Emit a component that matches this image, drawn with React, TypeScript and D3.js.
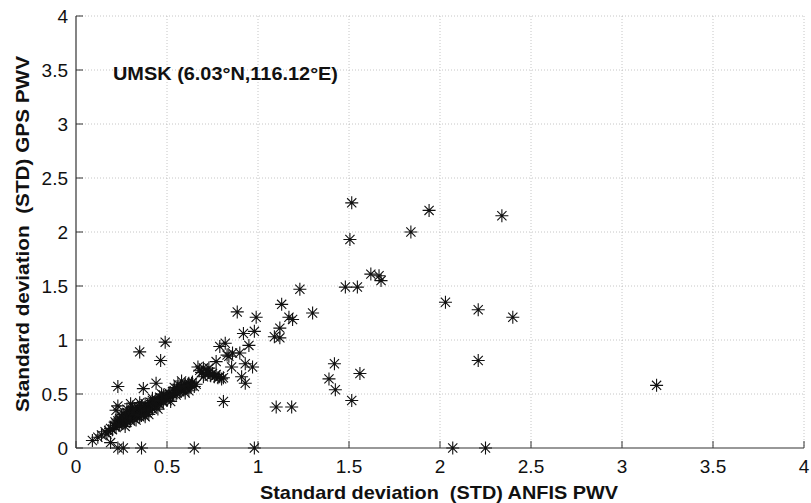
import React from 'react';
import * as d3 from 'd3';

// STD of ANFIS PWV (x) vs STD of GPS PWV (y)
const anfisStd: number[] = [
  0.09, 0.12, 0.14, 0.16, 0.17, 0.18, 0.19, 0.20, 0.21, 0.22, 0.22, 0.23, 0.24, 0.24, 0.25, 0.25,
  0.26, 0.26, 0.27, 0.27, 0.28, 0.28, 0.29, 0.29, 0.30, 0.30, 0.31, 0.31, 0.32, 0.32, 0.33, 0.33,
  0.34, 0.34, 0.35, 0.35, 0.36, 0.36, 0.37, 0.37, 0.38, 0.38, 0.39, 0.39, 0.40, 0.40, 0.41, 0.41,
  0.42, 0.42, 0.43, 0.44, 0.44, 0.45, 0.46, 0.46, 0.47, 0.48, 0.48, 0.49, 0.50, 0.50, 0.51, 0.52,
  0.53, 0.54, 0.55, 0.56, 0.57, 0.58, 0.59, 0.60, 0.61, 0.62, 0.63, 0.64, 0.65, 0.66, 0.62, 0.60,
  0.58, 0.56, 0.35, 0.31, 0.28, 0.30, 0.27, 0.33, 0.38, 0.45, 0.52, 0.40,
  0.215, 0.235, 0.255, 0.275, 0.295, 0.315, 0.335, 0.355, 0.375, 0.395, 0.415, 0.435, 0.455,
  0.475, 0.495, 0.515, 0.535, 0.555, 0.575, 0.595, 0.615, 0.635, 0.32, 0.36, 0.42, 0.47, 0.54,
  0.23, 0.23, 0.37, 0.44, 0.35, 0.465, 0.49, 0.22, 0.19,
  0.23, 0.26, 0.36, 0.65, 0.98, 2.07, 2.25,
  0.67, 0.68, 0.69, 0.70, 0.71, 0.72, 0.73, 0.74, 0.75, 0.76, 0.77, 0.78, 0.79, 0.80, 0.70, 0.73,
  0.81, 0.77, 0.81,
  0.79, 0.82, 0.83, 0.84, 0.86, 0.90, 0.95, 0.855, 0.93, 0.97, 0.91, 0.93, 0.886, 0.99, 0.92, 0.98,
  1.09, 1.12, 1.12, 1.13, 1.17, 1.19, 1.23, 1.30, 1.10, 1.185, 1.42, 1.39, 1.425, 1.56, 1.515,
  1.515, 1.505, 1.94, 2.34, 1.84, 1.62, 1.665, 1.676, 1.48, 1.546, 2.03, 2.21, 2.40, 2.21, 3.19,
];

const gpsStd: number[] = [
  0.07, 0.10, 0.12, 0.15, 0.13, 0.16, 0.18, 0.17, 0.21, 0.19, 0.23, 0.25, 0.22, 0.27, 0.24, 0.29,
  0.26, 0.31, 0.23, 0.28, 0.26, 0.33, 0.30, 0.27, 0.32, 0.25, 0.29, 0.35, 0.31, 0.27, 0.34, 0.30,
  0.37, 0.32, 0.29, 0.35, 0.33, 0.39, 0.36, 0.31, 0.34, 0.41, 0.37, 0.33, 0.39, 0.35, 0.42, 0.38,
  0.36, 0.44, 0.40, 0.38, 0.45, 0.42, 0.47, 0.40, 0.44, 0.49, 0.43, 0.46, 0.48, 0.44, 0.51, 0.47,
  0.50, 0.53, 0.49, 0.55, 0.52, 0.57, 0.54, 0.59, 0.56, 0.60, 0.58, 0.61, 0.57, 0.59, 0.53, 0.51,
  0.62, 0.59, 0.42, 0.38, 0.36, 0.41, 0.20, 0.26, 0.29, 0.36, 0.43, 0.31,
  0.24, 0.21, 0.28, 0.25, 0.28, 0.33, 0.31, 0.37, 0.35, 0.36, 0.40, 0.41, 0.44,
  0.46, 0.47, 0.49, 0.52, 0.51, 0.55, 0.57, 0.58, 0.60, 0.36, 0.30, 0.46, 0.50, 0.56,
  0.57, 0.39, 0.55, 0.60, 0.89, 0.81, 0.98, 0.35, 0.05,
  0.00, 0.00, 0.00, 0.00, 0.00, 0.00, 0.00,
  0.75, 0.72, 0.70, 0.74, 0.68, 0.72, 0.70, 0.67, 0.69, 0.66, 0.68, 0.65, 0.66, 0.64, 0.66, 0.74,
  0.65, 0.80, 0.43,
  0.94, 0.97, 0.86, 0.85, 0.88, 0.88, 0.95, 0.75, 0.78, 0.75, 0.66, 0.60, 1.26, 1.21, 1.06, 1.08,
  1.03, 1.02, 1.11, 1.33, 1.21, 1.19, 1.47, 1.25, 0.38, 0.38, 0.78, 0.64, 0.54, 0.69, 0.44,
  2.27, 1.93, 2.20, 2.15, 2.00, 1.61, 1.595, 1.55, 1.49, 1.49, 1.35, 1.28, 1.21, 0.81, 0.58,
];

const ticks: number[] = [0, 0.5, 1, 1.5, 2, 2.5, 3, 3.5, 4];
const tickLabels: string[] = ['0', '0.5', '1', '1.5', '2', '2.5', '3', '3.5', '4'];

const width = 811;
const height = 503;
const margin = { top: 16, right: 7, bottom: 55, left: 76 };

const FONT = '"Liberation Sans", Arial, Helvetica, sans-serif';
const MARKER = 'M-6.5,0H6.5M0,-6.5V6.5M-4.6,-4.6L4.6,4.6M-4.6,4.6L4.6,-4.6';

const App: React.FC = () => {
  const innerW = width - margin.left - margin.right;
  const innerH = height - margin.top - margin.bottom;

  const x = d3.scaleLinear().domain([0, 4]).range([0, innerW]);
  const y = d3.scaleLinear().domain([0, 4]).range([innerH, 0]);

  return (
    <div style={{ position: 'fixed', left: 0, top: 0, background: '#fff' }}>
      <svg width={width} height={height} style={{ display: 'block' }}>
        <rect width={width} height={height} fill="#fff" />
        <g transform={`translate(${margin.left},${margin.top})`}>
          {/* grid */}
          {ticks.slice(1).map(t => (
            <line key={'gx' + t} x1={x(t)} x2={x(t)} y1={0} y2={innerH}
              stroke="#b8b8b8" strokeWidth={0.8} strokeDasharray="1,2" />
          ))}
          {ticks.slice(1).map(t => (
            <line key={'gy' + t} x1={0} x2={innerW} y1={y(t)} y2={y(t)}
              stroke="#b8b8b8" strokeWidth={0.8} strokeDasharray="1,2" />
          ))}

          {/* axes */}
          <line x1={0} x2={innerW} y1={innerH} y2={innerH} stroke="#333" strokeWidth={1.2} />
          <line x1={0} x2={0} y1={0} y2={innerH} stroke="#333" strokeWidth={1.2} />

          {ticks.map((t, i) => (
            <g key={'tx' + t}>
              <line x1={x(t)} x2={x(t)} y1={innerH} y2={innerH - 7} stroke="#333" strokeWidth={1} />
              <text x={x(t)} y={innerH + 25} textAnchor="middle" fontFamily={FONT}
                fontSize={19} fill="#111">{tickLabels[i]}</text>
            </g>
          ))}
          {ticks.map((t, i) => (
            <g key={'ty' + t}>
              <line x1={0} x2={7} y1={y(t)} y2={y(t)} stroke="#333" strokeWidth={1} />
              <text x={-8} y={y(t)} dy="0.35em" textAnchor="end" fontFamily={FONT}
                fontSize={19} fill="#111">{tickLabels[i]}</text>
            </g>
          ))}

          {/* points */}
          {anfisStd.map((v, i) => (
            <path key={i} d={MARKER} transform={`translate(${x(v)},${y(gpsStd[i])})`}
              fill="none" stroke="#111" strokeWidth={1.1} />
          ))}

          <text x={37} y={64} fontFamily={FONT} fontWeight="bold" fontSize={18}
            textLength={225} lengthAdjust="spacingAndGlyphs" fill="#111">
            UMSK (6.03°N,116.12°E)
          </text>
        </g>

        <text x={260} y={499} fontFamily={FONT} fontWeight="bold" fontSize={19}
          textLength={358} lengthAdjust="spacingAndGlyphs" fill="#111">
          {'Standard deviation\u00a0 (STD) ANFIS PWV'}
        </text>
        <text transform="translate(29,412) rotate(-90)" fontFamily={FONT} fontWeight="bold"
          fontSize={19} textLength={356} lengthAdjust="spacingAndGlyphs" fill="#111">
          {'Standard deviation\u00a0 (STD) GPS PWV'}
        </text>
      </svg>
    </div>
  );
};

export default App;
